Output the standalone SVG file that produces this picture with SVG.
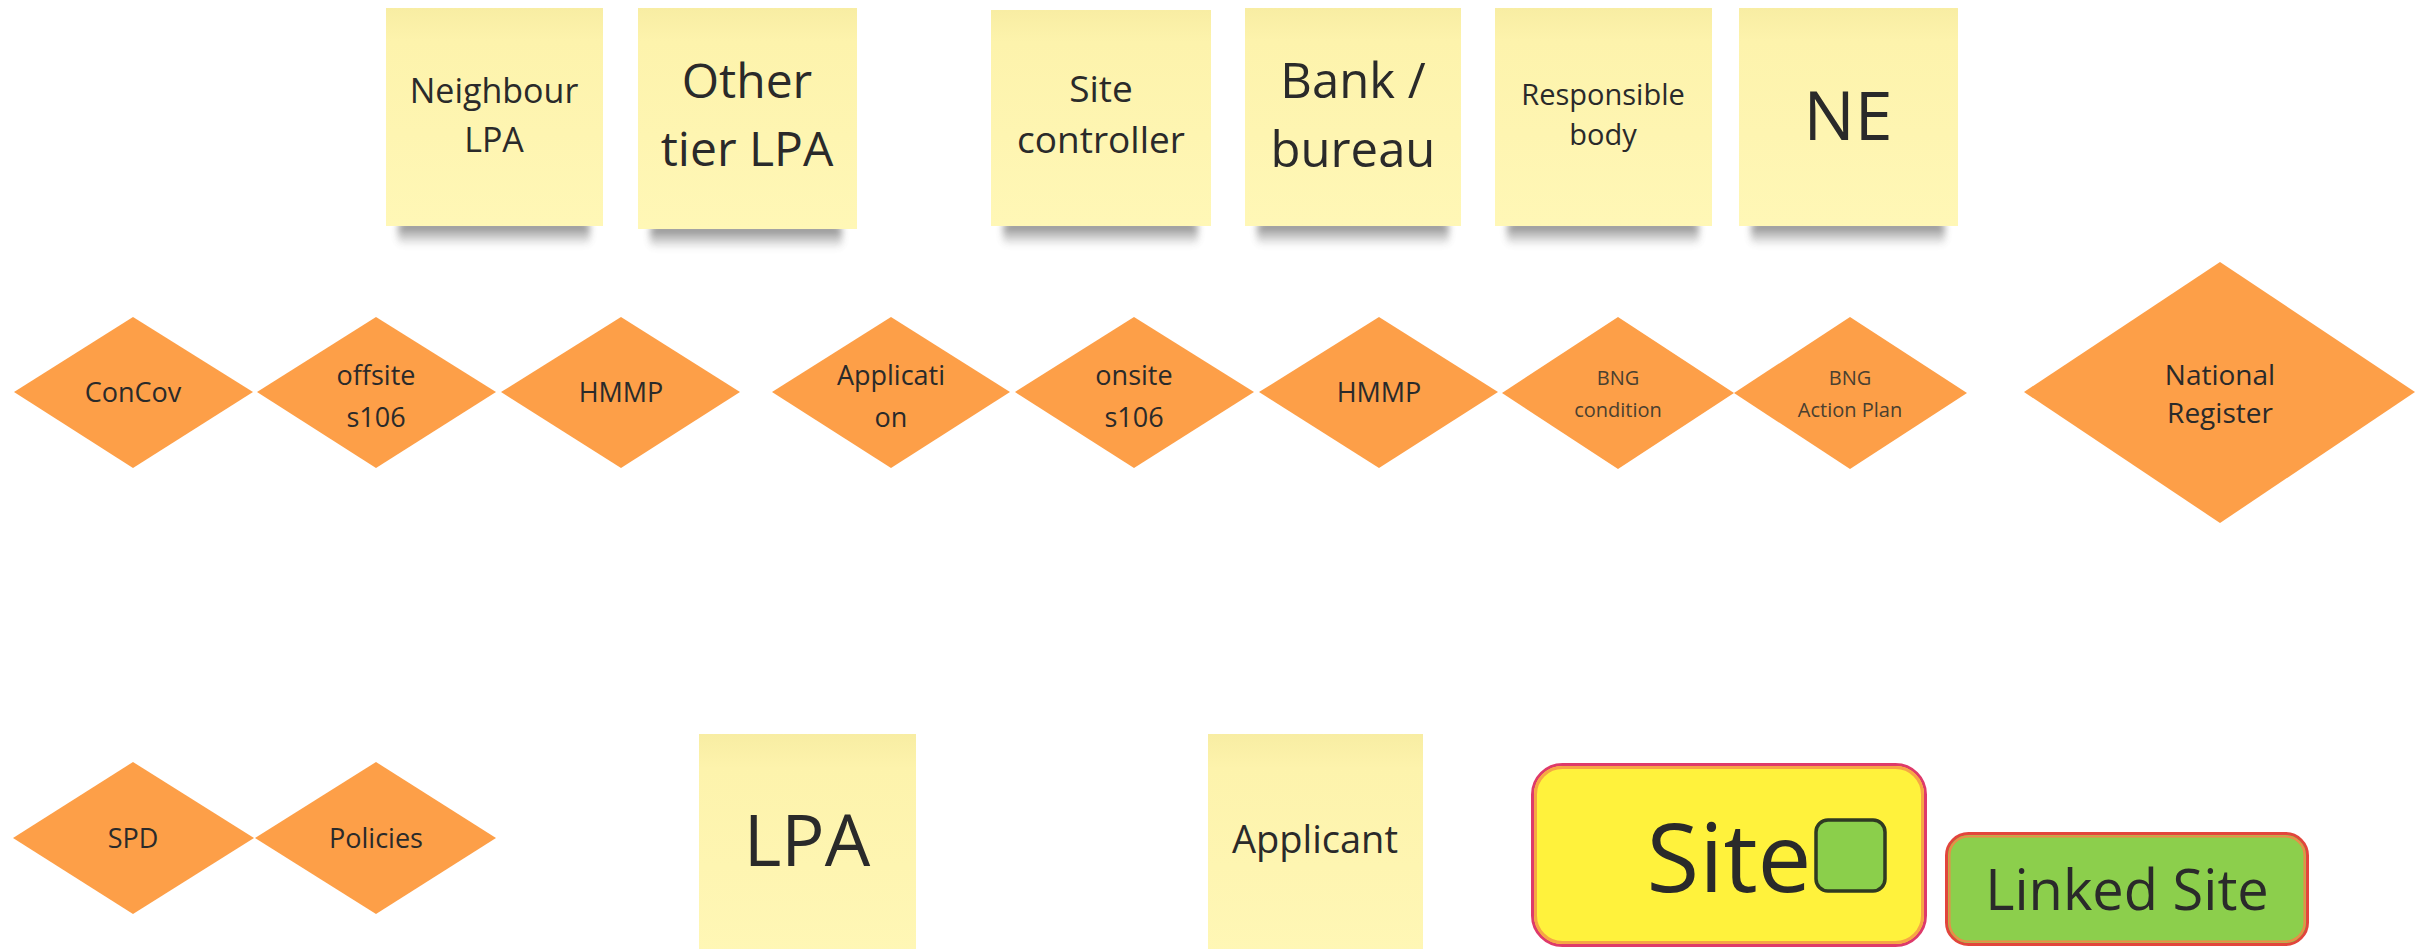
<svg xmlns="http://www.w3.org/2000/svg" width="2420" height="949" viewBox="0 0 2420 949">
<defs>
<linearGradient id="sticky" x1="0" y1="0" x2="0" y2="1">
<stop offset="0" stop-color="#f8eda3"/>
<stop offset="0.15" stop-color="#fdf3ac"/>
<stop offset="1" stop-color="#fff7b6"/>
</linearGradient>
<linearGradient id="shg" x1="0" y1="0" x2="0" y2="1">
<stop offset="0" stop-color="#666"/>
<stop offset="1" stop-color="#666" stop-opacity="0"/>
</linearGradient>
<filter id="shadow" x="-20%" y="-100%" width="140%" height="300%">
<feGaussianBlur stdDeviation="3.5"/>
</filter>
<style>
.st{fill:url(#sticky)}
.sh{fill:url(#shg);opacity:0.85;filter:url(#shadow)}
.dm{fill:#fd9f48}
text{font-family:"Open Sans","Liberation Sans",sans-serif;fill:#2a2a2a;text-anchor:middle}
.small{fill:#4a4030}
</style>
</defs>
<rect width="2420" height="949" fill="#ffffff"/>

<g id="connectors"></g>

<!-- top sticky notes -->
<g id="neighbour-lpa">
<rect class="sh" x="398" y="222" width="192" height="24" rx="6"/>
<rect class="st" x="386" y="8" width="217" height="218"/>
<text font-size="34" x="494" y="103">Neighbour</text>
<text font-size="34" x="494" y="152">LPA</text>
</g>
<g id="other-tier-lpa">
<rect class="sh" x="650" y="225" width="192" height="24" rx="6"/>
<rect class="st" x="638" y="8" width="219" height="221"/>
<text font-size="48" x="747" y="98">Other</text>
<text font-size="48" x="747" y="166">tier LPA</text>
</g>
<g id="site-controller">
<rect class="sh" x="1003" y="222" width="195" height="24" rx="6"/>
<rect class="st" x="991" y="10" width="220" height="216"/>
<text font-size="37" x="1101" y="102">Site</text>
<text font-size="37" x="1101" y="153">controller</text>
</g>
<g id="bank-bureau">
<rect class="sh" x="1257" y="222" width="192" height="24" rx="6"/>
<rect class="st" x="1245" y="8" width="216" height="218"/>
<text font-size="49" x="1353" y="98">Bank /</text>
<text font-size="49" x="1353" y="167">bureau</text>
</g>
<g id="responsible-body">
<rect class="sh" x="1507" y="222" width="192" height="24" rx="6"/>
<rect class="st" x="1495" y="8" width="217" height="218"/>
<text font-size="29" x="1603" y="105">Responsible</text>
<text font-size="29" x="1603" y="145">body</text>
</g>
<g id="ne">
<rect class="sh" x="1751" y="222" width="194" height="24" rx="6"/>
<rect class="st" x="1739" y="8" width="219" height="218"/>
<text font-size="68" x="1848" y="140">NE</text>
</g>

<!-- diamonds row 1 -->
<g id="concov">
<polygon class="dm" points="14,392 133,317 253,392 133,468"/>
<text font-size="27" x="133" y="402">ConCov</text>
</g>
<g id="offsite-s106">
<polygon class="dm" points="257,392 376,317 496,392 376,468"/>
<text font-size="27" x="376" y="385">offsite</text>
<text font-size="27" x="376" y="427">s106</text>
</g>
<g id="hmmp-1">
<polygon class="dm" points="501,392 621,317 740,392 621,468"/>
<text font-size="27" x="621" y="402">HMMP</text>
</g>
<g id="application">
<polygon class="dm" points="772,392 891,317 1010,392 891,468"/>
<text font-size="27" x="891" y="385">Applicati</text>
<text font-size="27" x="891" y="427">on</text>
</g>
<g id="onsite-s106">
<polygon class="dm" points="1015,392 1134,317 1254,392 1134,468"/>
<text font-size="27" x="1134" y="385">onsite</text>
<text font-size="27" x="1134" y="427">s106</text>
</g>
<g id="hmmp-2">
<polygon class="dm" points="1259,392 1379,317 1498,392 1379,468"/>
<text font-size="27" x="1379" y="402">HMMP</text>
</g>
<g id="bng-condition">
<polygon class="dm" points="1502,393 1618,317 1734,393 1618,469"/>
<text class="small" font-size="20" x="1618" y="385">BNG</text>
<text class="small" font-size="20" x="1618" y="417">condition</text>
</g>
<g id="bng-action-plan">
<polygon class="dm" points="1734,393 1850,317 1967,393 1850,469"/>
<text class="small" font-size="20" x="1850" y="385">BNG</text>
<text class="small" font-size="20" x="1850" y="417">Action Plan</text>
</g>
<g id="national-register">
<polygon class="dm" points="2024,392 2220,262 2415,392 2220,523"/>
<text font-size="28" x="2220" y="385">National</text>
<text font-size="28" x="2220" y="423">Register</text>
</g>

<!-- bottom row -->
<g id="spd">
<polygon class="dm" points="13,838 133,762 254,838 133,914"/>
<text font-size="27" x="133" y="848">SPD</text>
</g>
<g id="policies">
<polygon class="dm" points="255,838 376,762 496,838 376,914"/>
<text font-size="27" x="376" y="848">Policies</text>
</g>
<g id="lpa">
<rect class="st" x="699" y="734" width="217" height="230"/>
<text font-size="72" x="807" y="866">LPA</text>
</g>
<g id="applicant">
<rect class="st" x="1208" y="734" width="215" height="230"/>
<text font-size="38" x="1315" y="853">Applicant</text>
</g>
<g id="site">
<rect x="1532.5" y="764.5" width="393" height="181" rx="30" fill="#fff23c" stroke="#de3a6a" stroke-width="3"/>
<rect x="1535.5" y="767.5" width="387" height="175" rx="27" fill="none" stroke="#f7a545" stroke-width="3"/>
<text font-size="96" x="1729" y="892">Site</text>
<rect x="1816" y="820" width="69" height="71" rx="12" fill="#8bcf4b" stroke="#2f3a22" stroke-width="3.5"/>
</g>
<g id="linked-site">
<rect x="1946.5" y="833.5" width="361" height="111" rx="22" fill="#8ccf4c" stroke="#e2453c" stroke-width="3"/>
<rect x="1949.5" y="836.5" width="355" height="105" rx="19" fill="none" stroke="#ee8a48" stroke-width="2"/>
<text font-size="56" x="2127" y="910">Linked Site</text>
</g>
</svg>
